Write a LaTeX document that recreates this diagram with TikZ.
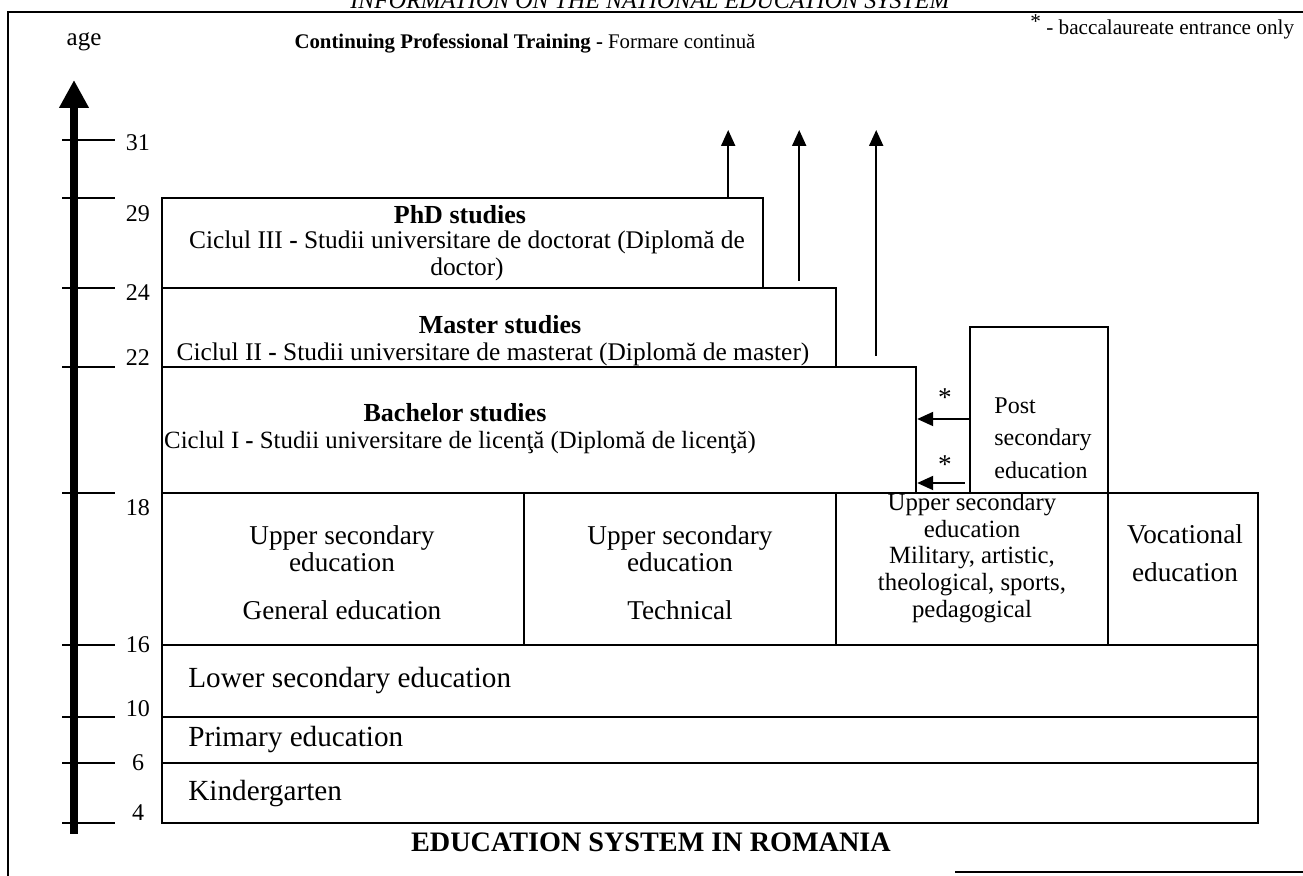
\documentclass[tikz,border=0pt]{standalone}
\usepackage{fontspec}
\setmainfont{Liberation Serif}
\usetikzlibrary{arrows.meta,positioning}

\begin{document}
\begin{tikzpicture}[x=0.5pt,y=-0.5pt]

\tikzstyle{every node}+=[inner sep=0pt]
\tikzstyle{box}=[draw=black, line width=1.2pt, inner sep=0pt]
\tikzstyle{txt}=[font=\fontsize{13.6}{13.6}\selectfont, align=center]
\tikzstyle{big}=[font=\fontsize{14.6}{14}\selectfont]
\tikzstyle{cyc}=[font=\fontsize{12.7}{13.8}\selectfont, align=center]
\tikzstyle{ttl}=[font=\fontsize{13}{13}\selectfont\bfseries]
\tikzstyle{num}=[font=\fontsize{12}{13}\selectfont]
\tikzstyle{tick}=[black, line width=1.2pt]
\tikzstyle{up}=[black, line width=1pt, -{Triangle[length=8pt,width=7pt]}]
\tikzstyle{left}=[black, line width=1pt, -{Triangle[length=8pt,width=7pt]}]
\useasboundingbox (0,0) rectangle (1303,876);

% page frame
\draw [black, line width=1.4pt] (8,876) -- (8,12) -- (1303,12);
\draw [black, line width=1pt] (955,872) -- (1303,872);
\draw (650,9) node [anchor=base, font=\fontsize{12}{12}\selectfont\itshape] (hdr) {INFORMATION ON THE NATIONAL EDUCATION SYSTEM};

% age axis
\coordinate (axbot) at (74,834);
\coordinate (axtop) at (74,80);
\draw [black, line width=4pt, -{Triangle[length=14pt,width=14pt]}] (axbot) -- (axtop);
\draw (84,42) node [font=\fontsize{12.5}{13}\selectfont] (age) {age};
\draw [tick] (62,140) -- (115,140);
\draw [tick] (62,198) -- (115,198);
\draw [tick] (62,288) -- (115,288);
\draw [tick] (62,367) -- (115,367);
\draw [tick] (62,493) -- (115,493);
\draw [tick] (62,645) -- (115,645);
\draw [tick] (62,717) -- (115,717);
\draw [tick] (62,763) -- (115,763);
\draw [tick] (62,823) -- (115,823);
\draw (138,143) node [num] (a31) {31};
\draw (138,214) node [num] (a29) {29};
\draw (138,293) node [num] (a24) {24};
\draw (138,358) node [num] (a22) {22};
\draw (138,508) node [num] (a18) {18};
\draw (138,645) node [num] (a16) {16};
\draw (138,709) node [num] (a10) {10};
\draw (138,763) node [num] (a6) {6};
\draw (138,813) node [num] (a4) {4};

% header notes
\draw (1030,27) node [anchor=west, font=\fontsize{10.6}{12}\selectfont] (note) {\raisebox{3pt}{*} - baccalaureate entrance only};
\draw (525,43) node [font=\fontsize{10.4}{12}\selectfont] (cpt) {\textbf{Continuing Professional Training -} Formare continuă};

% boxes
\draw (710,793) node [box, minimum width=548pt, minimum height=30pt] (kg) {};
\draw (710,740) node [box, minimum width=548pt, minimum height=23pt] (prim) {};
\draw (710,681) node [box, minimum width=548pt, minimum height=36pt] (lower) {};
\draw (343,569) node [box, minimum width=181pt, minimum height=76pt] (gen) {};
\draw (680,569) node [box, minimum width=156pt, minimum height=76pt] (tech) {};
\draw (972,569) node [box, minimum width=136pt, minimum height=76pt] (mil) {};
\draw (1183,569) node [box, minimum width=75pt, minimum height=76pt] (voc) {};
\draw (539,430) node [box, minimum width=377pt, minimum height=63pt] (bach) {};
\draw (499,327.5) node [box, minimum width=337pt, minimum height=39.5pt] (mast) {};
\draw (462.5,243) node [box, minimum width=300.5pt, minimum height=45pt] (phd) {};
\draw (1039,410) node [box, minimum width=69pt, minimum height=83pt] (post) {};

% box texts
\draw (188,794) node [big, anchor=west] (tkg) {Kindergarten};
\draw (188,740) node [big, anchor=west] (tprim) {Primary education};
\draw (188,681) node [big, anchor=west] (tlower) {Lower secondary education};
\draw (342,549) node [txt] (tgen1) {Upper secondary\\education};
\draw (342,610) node [txt] (tgen2) {General education};
\draw (680,549) node [txt] (ttech1) {Upper secondary\\education};
\draw (680,610) node [txt] (ttech2) {Technical};
\draw (972,558) node [align=center, font=\fontsize{12.4}{13.3}\selectfont] (tmil) {Upper secondary\\education\\Military, artistic,\\theological, sports,\\pedagogical};
\draw (1185,534) node [txt] (tvoc1) {Vocational};
\draw (1185,572) node [txt] (tvoc2) {education};
\draw (994,438) node [anchor=west, align=left, font=\fontsize{12}{16.2}\selectfont] (tpost) {Post\\secondary\\education};
\draw (455,413) node [ttl] (tbach1) {Bachelor studies};
\draw (460,443) node [cyc, font=\fontsize{12.4}{13.8}\selectfont] (tbach2) {Ciclul I \textbf{-} Studii universitare de licenţă (Diplomă de licenţă)};
\draw (500,325) node [ttl] (tmast1) {Master studies};
\draw (493,354) node [cyc] (tmast2) {Ciclul II \textbf{-} Studii universitare de masterat (Diplomă de master)};
\draw (460,215) node [ttl] (tphd1) {PhD studies};
\draw (467,256) node [cyc] (tphd2) {Ciclul III \textbf{-} Studii universitare de doctorat (Diplomă de\\doctor)};

% continuing training arrows
\coordinate (toprow) at (0,130);
\coordinate (u1) at ([xshift=-18pt]phd.north east);
\coordinate (u2) at ([xshift=-19pt,yshift=3pt]mast.north east);
\coordinate (u3) at ([xshift=-20.5pt,yshift=5pt]bach.north east);
\draw [up] (u1) -- (u1 |- toprow);
\draw [up] (u2) -- (u2 |- toprow);
\draw [up] (u3) -- (u3 |- toprow);

% baccalaureate arrows
\coordinate (p1) at ([yshift=-4.5pt]post.west);
\coordinate (p2) at ([xshift=-2pt,yshift=-36.5pt]post.west);
\draw [left] (p1) -- (p1 -| bach.east);
\draw [left] (p2) -- (p2 -| bach.east);
\draw (945,398) node [txt] (s1) {*};
\draw (945,465) node [txt] (s2) {*};

% title
\draw (651,842) node [font=\fontsize{14.1}{15}\selectfont\bfseries] (title) {EDUCATION SYSTEM IN ROMANIA};

\end{tikzpicture}
\end{document}
